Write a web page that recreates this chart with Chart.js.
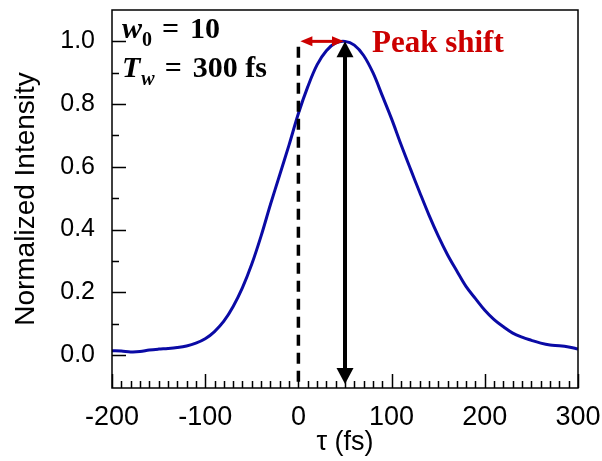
<!DOCTYPE html>
<html>
<head>
<meta charset="utf-8">
<script src="https://cdn.jsdelivr.net/npm/chart.js@4.4.1/dist/chart.umd.min.js"></script>
<style>
  html, body { margin: 0; padding: 0; background: #fff; }
  #wrap { width: 602px; height: 461px; }
</style>
</head>
<body>
<div id="wrap"><canvas id="chart" width="602" height="461"></canvas></div>
<script>
// delay tau (fs) and normalized signal
const tau = [-200, -190, -180, -170, -160, -150, -140, -130, -120, -110,
             -100, -90, -80, -70, -60, -50, -40, -30, -20, -10,
             0, 10, 20, 30, 40, 50, 60, 70, 80, 90,
             100, 110, 120, 130, 140, 150, 160, 170, 180, 190,
             200, 210, 220, 230, 240, 250, 260, 270, 280, 290, 300];
const intensity = [0.014, 0.013, 0.010, 0.011, 0.016, 0.019, 0.021, 0.024, 0.029, 0.038,
                   0.052, 0.075, 0.108, 0.155, 0.215, 0.29, 0.38, 0.48, 0.575, 0.67,
                   0.77, 0.855, 0.925, 0.97, 0.995, 1.0, 0.988, 0.955, 0.90, 0.827,
                   0.753, 0.672, 0.595, 0.52, 0.447, 0.38, 0.32, 0.268, 0.218, 0.18,
                   0.143, 0.113, 0.09, 0.07, 0.057, 0.047, 0.038, 0.032, 0.030, 0.026, 0.019];

const xTickValues = [-200, -100, 0, 100, 200, 300];
const yTickValues = [0, 0.2, 0.4, 0.6, 0.8, 1.0];

// annotation anchors, in data units
const zeroDelay = 0;
const peakDelay = 50;
const peakLevel = 1.0;
const arrowFloor = -0.092;
const dashFloor = -0.085;

const sans = "'Liberation Sans', Arial, sans-serif";
const serif = "'Liberation Serif', 'Times New Roman', serif";

function arrowHead(ctx, tipX, tipY, dx, dy, len, half) {
  const bx = tipX - dx * len, by = tipY - dy * len;
  ctx.beginPath();
  ctx.moveTo(tipX, tipY);
  ctx.lineTo(bx - dy * half, by + dx * half);
  ctx.lineTo(bx + dy * half, by - dx * half);
  ctx.closePath();
  ctx.fill();
}

// writes "sym_sub = value" with the pieces spaced out
function paramLine(ctx, x, base, sym, symItalic, sub, subItalic, value) {
  let cx = x;
  ctx.font = (symItalic ? 'bold italic ' : 'bold ') + '30px ' + serif;
  ctx.fillText(sym, cx, base);
  cx += ctx.measureText(sym).width + (sym === 'T' ? 1 : 0);
  ctx.font = (subItalic ? 'bold italic ' : 'bold ') + '20px ' + serif;
  ctx.fillText(sub, cx, base + 8);
  cx += ctx.measureText(sub).width + 10;
  ctx.font = 'bold 30px ' + serif;
  ctx.fillText('=', cx, base);
  cx += ctx.measureText('=').width + 11;
  ctx.fillText(value, cx, base);
}

// box frame + inward ticks
const framePlugin = {
  id: 'frame',
  afterDatasetsDraw(chart) {
    const { ctx, chartArea: a, scales: { x, y } } = chart;
    ctx.save();
    ctx.strokeStyle = '#000';
    ctx.lineWidth = 1.5;
    ctx.strokeRect(a.left, a.top, a.right - a.left, a.bottom - a.top);
    ctx.beginPath();
    for (let v = -200; v <= 300; v += 10) {
      const px = Math.round(x.getPixelForValue(v)) + 0.5;
      const len = v % 100 === 0 ? 14 : 7;
      ctx.moveTo(px, a.bottom);
      ctx.lineTo(px, a.bottom - len);
    }
    for (let i = 0; i <= 10; i++) {
      const py = Math.round(y.getPixelForValue(i / 10)) + 0.5;
      const len = i % 2 === 0 ? 14 : 7;
      ctx.moveTo(a.left, py);
      ctx.lineTo(a.left + len, py);
    }
    ctx.stroke();
    ctx.restore();
  },
  afterDraw(chart) {
    const { ctx, chartArea: a, scales: { x, y } } = chart;
    const x0 = x.getPixelForValue(zeroDelay);
    const xp = x.getPixelForValue(peakDelay);
    const yp = y.getPixelForValue(peakLevel);
    ctx.save();

    // dashed marker at tau = 0
    ctx.strokeStyle = '#000';
    ctx.lineWidth = 3.5;
    ctx.setLineDash([11, 7]);
    ctx.beginPath();
    ctx.moveTo(x0, y.getPixelForValue(dashFloor));
    ctx.lineTo(x0, yp);
    ctx.stroke();
    ctx.setLineDash([]);

    // vertical double arrow under the peak
    const yb = y.getPixelForValue(arrowFloor);
    ctx.fillStyle = '#000';
    ctx.lineWidth = 4;
    ctx.beginPath();
    ctx.moveTo(xp, yp + 14);
    ctx.lineTo(xp, yb - 14);
    ctx.stroke();
    arrowHead(ctx, xp, yp, 0, -1, 16, 8.5);
    arrowHead(ctx, xp, yb, 0, 1, 16, 8.5);

    // horizontal peak-shift arrow
    ctx.strokeStyle = '#cc0000';
    ctx.fillStyle = '#cc0000';
    ctx.lineWidth = 3;
    ctx.beginPath();
    ctx.moveTo(x0 + 12, yp);
    ctx.lineTo(xp - 12, yp);
    ctx.stroke();
    arrowHead(ctx, x0 + 2, yp, -1, 0, 12, 5);
    arrowHead(ctx, xp - 1, yp, 1, 0, 12, 5);

    ctx.textBaseline = 'alphabetic';
    ctx.textAlign = 'left';
    ctx.font = 'bold 31px ' + serif;
    ctx.fillText('Peak shift', xp + 27, yp + 11);

    // parameter labels
    ctx.fillStyle = '#000';
    paramLine(ctx, a.left + 10, 38, 'w', true, '0', false, '10');
    paramLine(ctx, a.left + 10, 77, 'T', true, 'w', true, '300 fs');
    ctx.restore();
  }
};

new Chart(document.getElementById('chart'), {
  type: 'line',
  data: {
    datasets: [{
      data: tau.map((t, i) => ({ x: t, y: intensity[i] })),
      borderColor: '#0a0aa5',
      borderWidth: 3,
      pointRadius: 0,
      fill: false,
      tension: 0.35
    }]
  },
  options: {
    responsive: false,
    animation: false,
    devicePixelRatio: 1,
    layout: { padding: { top: 10, right: 24, left: 0, bottom: 0 } },
    plugins: { legend: { display: false }, tooltip: { enabled: false } },
    scales: {
      x: {
        type: 'linear',
        min: -200,
        max: 300,
        grid: { display: false },
        border: { display: false },
        afterBuildTicks: s => { s.ticks = xTickValues.map(v => ({ value: v })); },
        afterFit: s => { s.height = 73; s.paddingLeft = 0; s.paddingRight = 0; },
        ticks: {
          color: '#000',
          padding: 5,
          maxRotation: 0,
          font: { family: sans, size: 27 }
        },
        title: {
          display: true,
          text: 'τ (fs)',
          color: '#000',
          padding: { top: 0, bottom: 2 },
          font: { family: sans, size: 27, lineHeight: 1.2 }
        }
      },
      y: {
        type: 'linear',
        min: -0.105,
        max: 1.10,
        grid: { display: false },
        border: { display: false },
        afterBuildTicks: s => { s.ticks = yTickValues.map(v => ({ value: v })); },
        afterFit: s => { s.width = 112; s.paddingTop = 0; s.paddingBottom = 0; },
        ticks: {
          color: '#000',
          padding: 9,
          callback: v => v.toFixed(1),
          font: { family: sans, size: 25 }
        },
        title: {
          display: true,
          text: 'Normalized Intensity',
          color: '#000',
          padding: { top: 9, bottom: 0 },
          font: { family: sans, size: 28, lineHeight: 1.2 }
        }
      }
    }
  },
  plugins: [framePlugin]
});
</script>
</body>
</html>
